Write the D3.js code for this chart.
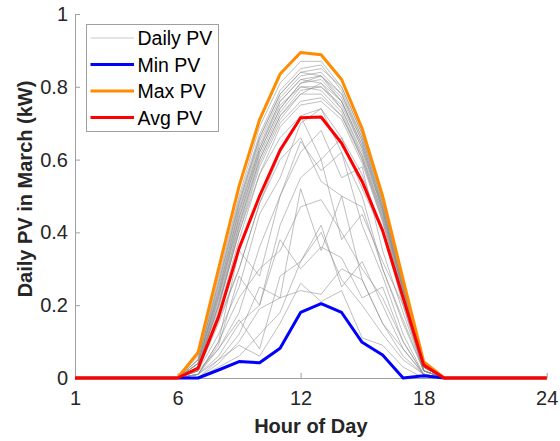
<!DOCTYPE html>
<html>
<head>
<meta charset="utf-8">
<script src="https://cdn.jsdelivr.net/npm/d3@7"></script>
<style>
  body { margin: 0; background: #fff; overflow: hidden; }
  svg { display: block; }
  text { font-family: "Liberation Sans", Arial, Helvetica, sans-serif; }
</style>
</head>
<body>
<svg width="560" height="441"></svg>
<script>
const hours = [1, 2, 3, 4, 5, 6, 7, 8, 9, 10, 11, 12, 13, 14, 15, 16, 17, 18, 19, 20, 21, 22, 23, 24];
const dayHours = [6, 7, 8, 9, 10, 11, 12, 13, 14, 15, 16, 17, 18, 19];
const xTicks = [1, 6, 12, 18, 24];
const yTicks = [0, 0.2, 0.4, 0.6, 0.8, 1];

const minPV = [0, 0, 0, 0, 0, 0, 0, 0.022, 0.045, 0.042, 0.082, 0.18, 0.204, 0.18, 0.098, 0.063, 0, 0.006, 0, 0, 0, 0, 0, 0];
const maxPV = [0, 0, 0, 0, 0, 0, 0.07, 0.3, 0.527, 0.71, 0.835, 0.894, 0.888, 0.82, 0.685, 0.5, 0.27, 0.045, 0, 0, 0, 0, 0, 0];
const avgPV = [0, 0, 0, 0, 0, 0, 0.027, 0.168, 0.356, 0.5, 0.626, 0.715, 0.717, 0.645, 0.54, 0.405, 0.22, 0.036, 0, 0, 0, 0, 0, 0];

// one row per day of March, hours 6..19 (night hours are 0)
const dailyPV = [
  [0, 0.05, 0.27, 0.49, 0.67, 0.79, 0.85, 0.86, 0.79, 0.66, 0.48, 0.26, 0.03, 0],
  [0, 0.04, 0.25, 0.47, 0.65, 0.77, 0.83, 0.84, 0.78, 0.65, 0.47, 0.25, 0.03, 0],
  [0, 0.05, 0.26, 0.48, 0.66, 0.78, 0.84, 0.83, 0.76, 0.63, 0.46, 0.24, 0.02, 0],
  [0, 0.03, 0.22, 0.44, 0.62, 0.74, 0.81, 0.82, 0.76, 0.64, 0.47, 0.25, 0.03, 0],
  [0, 0.04, 0.24, 0.46, 0.63, 0.75, 0.8, 0.8, 0.74, 0.62, 0.45, 0.24, 0.03, 0],
  [0, 0.03, 0.21, 0.42, 0.6, 0.72, 0.79, 0.8, 0.75, 0.63, 0.46, 0.25, 0.03, 0],
  [0, 0.04, 0.23, 0.45, 0.63, 0.76, 0.82, 0.81, 0.74, 0.61, 0.44, 0.23, 0.02, 0],
  [0, 0.02, 0.19, 0.41, 0.59, 0.71, 0.78, 0.78, 0.72, 0.6, 0.44, 0.24, 0.03, 0],
  [0, 0.03, 0.2, 0.4, 0.58, 0.7, 0.76, 0.77, 0.72, 0.61, 0.45, 0.24, 0.03, 0],
  [0, 0.05, 0.26, 0.48, 0.66, 0.78, 0.84, 0.85, 0.8, 0.67, 0.49, 0.26, 0.04, 0],
  [0, 0.04, 0.24, 0.46, 0.64, 0.76, 0.82, 0.83, 0.77, 0.65, 0.47, 0.25, 0.03, 0],
  [0, 0.03, 0.22, 0.43, 0.61, 0.73, 0.8, 0.79, 0.73, 0.6, 0.43, 0.22, 0.02, 0],
  [0, 0.02, 0.18, 0.38, 0.56, 0.69, 0.75, 0.76, 0.71, 0.59, 0.43, 0.23, 0.03, 0],
  [0, 0.04, 0.23, 0.44, 0.62, 0.74, 0.81, 0.83, 0.78, 0.66, 0.48, 0.26, 0.03, 0],
  [0, 0.03, 0.2, 0.42, 0.6, 0.72, 0.78, 0.81, 0.76, 0.64, 0.46, 0.24, 0.03, 0],
  [0, 0.06, 0.28, 0.5, 0.69, 0.81, 0.87, 0.87, 0.8, 0.67, 0.49, 0.27, 0.04, 0],
  [0, 0.02, 0.15, 0.3, 0.48, 0.62, 0.72, 0.6, 0.66, 0.52, 0.4, 0.2, 0.02, 0],
  [0, 0.02, 0.12, 0.25, 0.45, 0.55, 0.7, 0.74, 0.62, 0.5, 0.3, 0.15, 0.02, 0],
  [0, 0.01, 0.1, 0.35, 0.28, 0.5, 0.62, 0.68, 0.55, 0.58, 0.35, 0.18, 0.02, 0],
  [0, 0.02, 0.08, 0.18, 0.36, 0.5, 0.65, 0.57, 0.62, 0.42, 0.28, 0.12, 0.01, 0],
  [0, 0.01, 0.06, 0.15, 0.2, 0.42, 0.55, 0.6, 0.38, 0.45, 0.32, 0.2, 0.02, 0],
  [0, 0.01, 0.1, 0.22, 0.3, 0.35, 0.47, 0.49, 0.4, 0.3, 0.22, 0.1, 0.01, 0],
  [0, 0.01, 0.05, 0.12, 0.25, 0.22, 0.52, 0.35, 0.5, 0.27, 0.15, 0.06, 0.01, 0],
  [0, 0.01, 0.08, 0.16, 0.08, 0.28, 0.32, 0.42, 0.25, 0.32, 0.2, 0.08, 0.01, 0],
  [0, 0, 0.04, 0.1, 0.19, 0.22, 0.24, 0.23, 0.3, 0.27, 0.15, 0.08, 0.01, 0],
  [0, 0, 0.03, 0.06, 0.12, 0.18, 0.32, 0.4, 0.27, 0.2, 0.12, 0.05, 0.01, 0],
  [0, 0, 0.05, 0.09, 0.06, 0.15, 0.26, 0.21, 0.24, 0.11, 0.09, 0.03, 0, 0],
  [0, 0, 0.022, 0.045, 0.042, 0.082, 0.18, 0.204, 0.18, 0.098, 0.063, 0, 0.006, 0],
  [0, 0.01, 0.09, 0.28, 0.2, 0.38, 0.3, 0.36, 0.33, 0.22, 0.25, 0.1, 0.01, 0],
  [0, 0.02, 0.16, 0.3, 0.48, 0.6, 0.66, 0.54, 0.5, 0.47, 0.3, 0.16, 0.02, 0],
  [0, 0.03, 0.2, 0.4, 0.56, 0.66, 0.72, 0.74, 0.66, 0.56, 0.4, 0.21, 0.02, 0]
];

const legendItems = ["Daily PV", "Min PV", "Max PV", "Avg PV"];
const legendColors = ["#c8c8c8", "#0000ff", "#ff8c00", "#ff0000"];

const svg = d3.select("svg");
const margin = { left: 75, right: 13.3, top: 14, bottom: 63 };
const width = +svg.attr("width");
const height = +svg.attr("height");
const innerWidth = width - margin.left - margin.right;
const innerHeight = height - margin.top - margin.bottom;

const g = svg
  .append("g")
  .attr("transform", `translate(${margin.left},${margin.top})`);

const xScale = d3.scaleLinear().domain([1, 24]).range([0, innerWidth]);
const yScale = d3.scaleLinear().domain([0, 1]).range([innerHeight, 0]);

const line = xs => d3
  .line()
  .x((d, i) => xScale(xs[i]))
  .y(d => yScale(d));

// daily curves
g.append("g")
  .selectAll("path")
  .data(dailyPV)
  .enter()
  .append("path")
  .attr("d", line(dayHours))
  .attr("fill", "none")
  .attr("stroke", "#8c8c8c")
  .attr("stroke-opacity", 0.8)
  .attr("stroke-width", 0.7);

// axes
const xAxis = d3.axisBottom(xScale).tickValues(xTicks).tickSizeInner(-5).tickSizeOuter(0).tickPadding(13);
const yAxis = d3.axisLeft(yScale).tickValues(yTicks).tickSizeInner(-5).tickSizeOuter(0).tickPadding(7).tickFormat(d3.format("~g"));

const xAxisG = g.append("g").attr("transform", `translate(0,${innerHeight})`).call(xAxis);
const yAxisG = g.append("g").call(yAxis);
[xAxisG, yAxisG].forEach(a => {
  a.attr("font-size", null).attr("font-family", null);
  a.select(".domain").attr("stroke", "#a0a0a0");
  a.selectAll(".tick line").attr("stroke", "#a0a0a0");
  a.selectAll(".tick text")
    .attr("fill", "#262626")
    .style("font-size", "20px");
});

// summary lines
[[minPV, "#0000ff"], [maxPV, "#ff8c00"], [avgPV, "#ff0000"]].forEach(([vals, col]) => {
  g.append("path")
    .datum(vals)
    .attr("d", line(hours))
    .attr("fill", "none")
    .attr("stroke", col)
    .attr("stroke-width", 3)
    .attr("stroke-linejoin", "round");
});

// labels
svg
  .append("text")
  .attr("x", margin.left + innerWidth / 2)
  .attr("y", 433)
  .attr("text-anchor", "middle")
  .attr("fill", "#262626")
  .style("font-size", "20px")
  .attr("font-weight", "bold")
  .text("Hour of Day");

svg
  .append("text")
  .attr("transform", "translate(32,189) rotate(-90)")
  .attr("text-anchor", "middle")
  .attr("fill", "#262626")
  .style("font-size", "20px")
  .attr("font-weight", "bold")
  .text("Daily PV in March (kW)");

// legend
const legendG = svg.append("g").attr("transform", "translate(86.5,24.5)");
legendG
  .append("rect")
  .attr("width", 132)
  .attr("height", 107)
  .attr("fill", "#fff")
  .attr("stroke", "#a0a0a0");

const rows = legendG
  .selectAll("g.row")
  .data(legendItems)
  .enter()
  .append("g")
  .attr("class", "row")
  .attr("transform", (d, i) => `translate(0,${13.5 + i * 26.5})`);

rows
  .append("line")
  .attr("x1", 4)
  .attr("x2", 47.5)
  .attr("stroke", (d, i) => legendColors[i])
  .attr("stroke-width", (d, i) => (i === 0 ? 1 : 3));

rows
  .append("text")
  .attr("x", 51)
  .attr("y", 7)
  .attr("fill", "#000")
  .style("font-size", "19.5px")
  .text(d => d);
</script>
</body>
</html>
